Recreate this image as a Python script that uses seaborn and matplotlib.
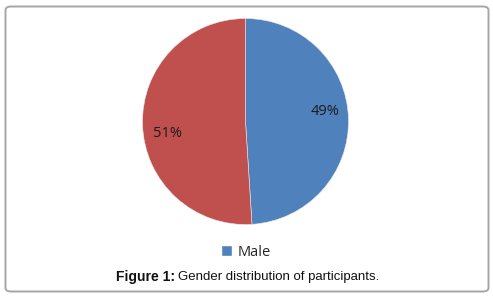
import seaborn as sns
import matplotlib.pyplot as plt
from matplotlib.patches import FancyBboxPatch, Patch

# Данные
labels = ['Male', 'Female']
shares = [49, 51]
colors = ['#4F81BD', '#C0504D']

sns.set_style("white")
plt.rcParams['font.family'] = ['Open Sans', 'DejaVu Sans']

W, H = 493, 297
fig = plt.figure(figsize=(W / 100, H / 100), dpi=100)

# Рамка вокруг рисунка
frame = FancyBboxPatch((5.5 / W, 5.5 / H), 483 / W, 285 / H,
                       boxstyle="round,pad=0,rounding_size=0.012",
                       transform=fig.transFigure, facecolor='none',
                       edgecolor='#A6A6A6', linewidth=1.4, zorder=5)
fig.patches.append(frame)

# Оси под круговую диаграмму
cx, cy, r = 245.5, 121.5, 103
ax = fig.add_axes([(cx - r) / W, (H - cy - r) / H, 2 * r / W, 2 * r / H])
wedges, texts, autotexts = ax.pie(
    shares, colors=colors, startangle=90, counterclock=False,
    autopct='%d%%', pctdistance=0.77,
    wedgeprops=dict(linewidth=0.4, edgecolor='#e8e8e8'),
    textprops=dict(fontsize=10.5, color='#1a1a1a')
)
# Подгоняем положение подписей
autotexts[0].set_position((0.77, 0.10))
autotexts[1].set_position((-0.76, -0.12))
ax.set_xlim(-1, 1)
ax.set_ylim(-1, 1)
ax.set_aspect('equal')
ax.axis('off')

# Легенда только для первой категории
fig.legend(handles=[Patch(facecolor=colors[0], label=labels[0])],
           loc='center', bbox_to_anchor=(246 / W, 1 - 252 / H),
           frameon=False, fontsize=10.5, handlelength=0.7, handleheight=0.7,
           handletextpad=0.4, borderpad=0)

# Подпись рисунка: жирная часть + обычная
y_cap = 1 - 277 / H
t1 = fig.text(116 / W, y_cap, 'Figure 1:', fontsize=10, fontweight='bold',
              family=['Liberation Sans', 'DejaVu Sans'], color='#111111',
              va='center', ha='left')
fig.canvas.draw()
bb = t1.get_window_extent()
fig.text((bb.x1 + 3) / W, y_cap, 'Gender distribution of participants.',
         fontsize=9.5, family=['Liberation Sans', 'DejaVu Sans'],
         color='#111111', va='center', ha='left')

fig.savefig('out.png', dpi=100)
